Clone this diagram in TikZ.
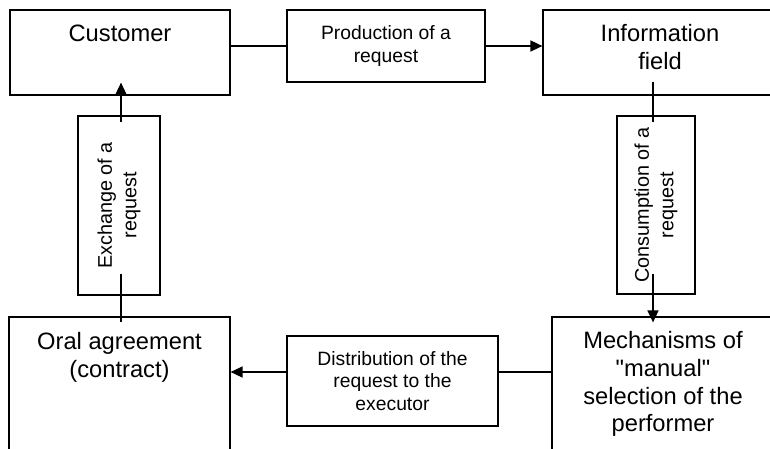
\documentclass[tikz,border=0pt]{standalone}
\usepackage{fontspec}
\setmainfont{Liberation Sans}
\usepackage{tikz}
\usetikzlibrary{arrows.meta, positioning, calc}
\tikzset{
  box/.style={rectangle, draw=black, line width=1.2pt, inner sep=0pt},
  txt/.style={anchor=north, inner sep=0pt, align=center,
              font=\fontsize{23.7}{27.7}\selectfont},
  act/.style={rectangle, draw=black, line width=1.2pt, inner sep=2pt,
              align=center, font=\fontsize{19.3}{22.5}\selectfont},
  vact/.style={act, rotate=90, font=\fontsize{19.8}{24.5}\selectfont},
  link/.style={line width=1.6pt, black},
  flow/.style={-{Triangle[length=12pt,width=11pt]}, line width=1.6pt, black},
}

\begin{document}
\begin{tikzpicture}[x=1pt, y=1pt]
  \useasboundingbox (0,0) rectangle (770,448);
  \clip (0,0) rectangle (770,448);
  % large boxes
  \node[box, minimum width=220pt, minimum height=85pt] (cust) at (120,395.5) {};
  \node[box, minimum width=234pt, minimum height=85pt] (info) at (660,395.5) {};
  \node[box, minimum width=221pt, minimum height=150pt] (oral) at (119.5,56) {};
  \node[box, minimum width=222pt, minimum height=150pt] (mech) at (663,56) {};
  \node[txt] (custtxt) at ([yshift=-15pt]cust.north) {Customer};
  \node[txt] (infotxt) at ([yshift=-15pt]info.north) {Information\\field};
  \node[txt] (oraltxt) at ([yshift=-16pt]oral.north) {Oral agreement\\(contract)};
  \node[txt] (mechtxt) at ([yshift=-15pt]mech.north) {Mechanisms of\\\textquotedbl manual\textquotedbl\\selection of the\\performer};
  % actions
  \node[act, minimum width=198pt, minimum height=72pt] (prod) at (386,402) {Production of a\\request};
  \node[act, minimum width=211pt, minimum height=90pt] (dist) at (392.5,67) {Distribution of the\\request to the\\executor};
  \node[vact, minimum width=179pt, minimum height=82pt] (exch) at (119,242.5) {Exchange of a\\request};
  \node[vact, minimum width=178pt, minimum height=78pt] (cons) at (656,243) {Consumption of a\\request};
  % connectors
  \draw[link] (prod.west) -- (prod.west -| cust.east);
  \draw[flow] (prod.east) -- (prod.east -| info.west);
  \draw[link, shorten <=-7pt, shorten >=-14pt] ([xshift=-3pt]cons.east) -- ([xshift=-3pt]cons.east |- info.south);
  \draw[flow, shorten <=-21pt, shorten >=-6pt] ([xshift=-3pt]cons.west) -- ([xshift=-3pt]cons.west |- mech.north);
  \draw[flow] ([yshift=9pt]dist.west) -- ([yshift=9pt]dist.west -| oral.east);
  \draw[link] ([yshift=9pt]dist.east) -- ([yshift=9pt]dist.east -| mech.west);
  \draw[flow, shorten <=-7pt, shorten >=-13pt] ([xshift=2pt]exch.east) -- ([xshift=2pt]exch.east |- cust.south);
  \draw[link, shorten <=-22pt, shorten >=-6pt] ([xshift=2pt]exch.west) -- ([xshift=2pt]exch.west |- oral.north);
\end{tikzpicture}
\end{document}
